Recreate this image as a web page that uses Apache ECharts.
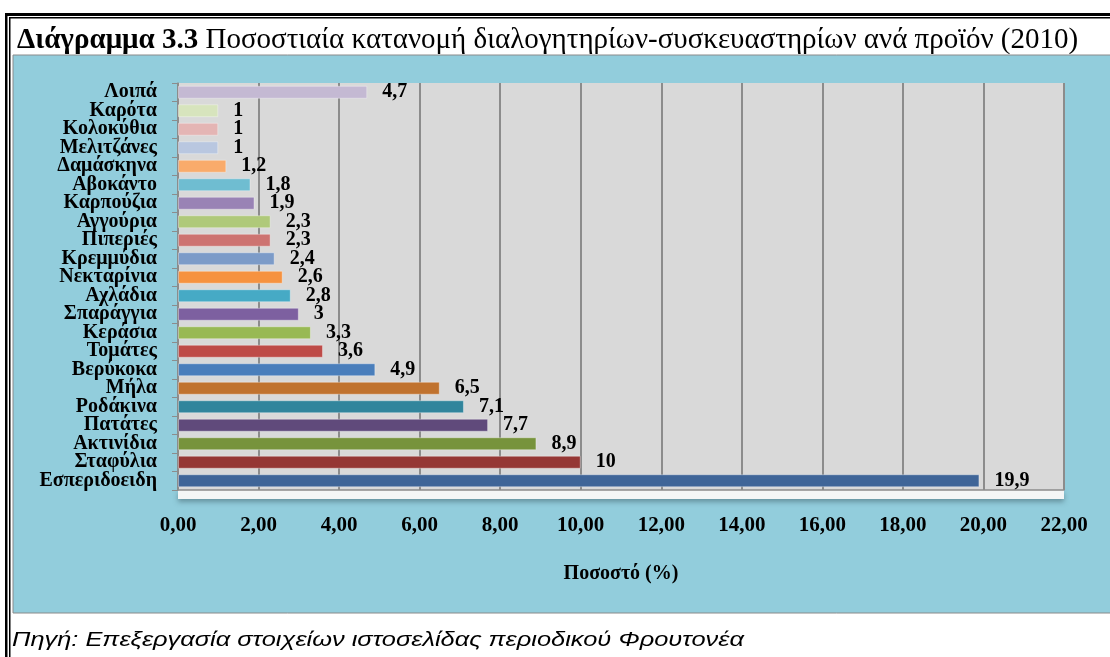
<!DOCTYPE html>
<html>
<head>
<meta charset="utf-8">
<script src="https://cdn.jsdelivr.net/npm/echarts@6/dist/echarts.min.js"></script>
<style>
  html, body { margin: 0; padding: 0; background: #fff; }
  #chart { width: 1110px; height: 657px; }
</style>
</head>
<body>
<div id="chart"></div>
<script>
// κατηγορίες από κάτω προς τα πάνω
const products = ['Εσπεριδοειδη', 'Σταφύλια', 'Ακτινίδια', 'Πατάτες', 'Ροδάκινα', 'Μήλα', 'Βερύκοκα',
  'Τομάτες', 'Κεράσια', 'Σπαράγγια', 'Αχλάδια', 'Νεκταρίνια', 'Κρεμμύδια', 'Πιπεριές', 'Αγγούρια',
  'Καρπούζια', 'Αβοκάντο', 'Δαμάσκηνα', 'Μελιτζάνες', 'Κολοκύθια', 'Καρότα', 'Λοιπά'];
const shares = [19.9, 10, 8.9, 7.7, 7.1, 6.5, 4.9, 3.6, 3.3, 3, 2.8, 2.6, 2.4, 2.3, 2.3, 1.9, 1.8, 1.2, 1, 1, 1, 4.7];
const barColors = ['#3F6598', '#953735', '#77933C', '#604A7B', '#31859C', '#C0722E', '#4A7EBB',
  '#BE4B48', '#98B954', '#7D60A0', '#46AAC5', '#F69240', '#7C9BC8', '#CD7371', '#AFC97A',
  '#9983B5', '#6FBDD1', '#F9AB6B', '#B9C7E0', '#E4B5B4', '#D7E4BD', '#C4B9D3'];
const xTicks = [0, 22, 2]; // min, max, βήμα

const serif = '"Liberation Serif", "Times New Roman", serif';
const chart = echarts.init(document.getElementById('chart'));

chart.setOption({
  backgroundColor: '#fff',
  animation: false,
  graphic: [
    // πλαίσιο (διπλή γραμμή)
    { type: 'rect', shape: { x: 5, y: 13, width: 1110, height: 3 }, style: { fill: '#000' } },
    { type: 'rect', shape: { x: 9, y: 17, width: 1110, height: 1.5 }, style: { fill: '#000' } },
    { type: 'rect', shape: { x: 5, y: 13, width: 2.5, height: 650 }, style: { fill: '#000' } },
    { type: 'rect', shape: { x: 9, y: 17, width: 1.5, height: 650 }, style: { fill: '#000' } },
    // μπλε φόντο γραφήματος
    { type: 'rect', z: -10, shape: { x: 13, y: 55, width: 1100, height: 558 },
      style: { fill: '#92CDDC', stroke: '#8a8a8a', lineWidth: 1 } },
    // λευκό "δάπεδο" κάτω από την περιοχή σχεδίασης
    { type: 'rect', z: -5, shape: { x: 178, y: 490, width: 886, height: 9 },
      style: { fill: '#F4F6F6', shadowBlur: 5, shadowColor: 'rgba(60,90,100,0.5)', shadowOffsetY: 3 } },
    { type: 'text', x: 12, y: 640, scaleX: 1.27,
      style: { text: 'Πηγή: Επεξεργασία στοιχείων ιστοσελίδας περιοδικού Φρουτονέα',
        font: 'italic 20px "Liberation Sans", Arial, sans-serif', fill: '#000', verticalAlign: 'middle' } }
  ],
  title: {
    left: 12, top: 21,
    text: '{b|Διάγραμμα 3.3} Ποσοστιαία κατανομή διαλογητηρίων-συσκευαστηρίων ανά προϊόν (2010)',
    textStyle: {
      fontFamily: serif, fontSize: 29, fontWeight: 'normal', color: '#000',
      rich: { b: { fontFamily: serif, fontSize: 29, fontWeight: 'bold', color: '#000' } }
    }
  },
  grid: {
    left: 178, right: 46, top: 83, bottom: 167,
    show: true, backgroundColor: '#D9D9D9', borderWidth: 0
  },
  xAxis: {
    type: 'value',
    min: xTicks[0], max: xTicks[1], interval: xTicks[2],
    name: 'Ποσοστό (%)',
    nameLocation: 'middle', nameGap: 74,
    nameTextStyle: { fontFamily: serif, fontSize: 20, fontWeight: 'bold', color: '#000' },
    axisLine: { show: true, lineStyle: { color: '#8C8C8C', width: 1.5 } },
    axisTick: { show: false },
    axisLabel: {
      margin: 25, fontFamily: serif, fontSize: 21, fontWeight: 'bold', color: '#000',
      formatter: v => v.toFixed(2).replace('.', ',')
    },
    splitLine: { show: true, lineStyle: { color: '#8C8C8C', width: 2 } }
  },
  yAxis: {
    type: 'category',
    data: products,
    axisLine: { show: true, lineStyle: { color: '#8C8C8C', width: 1.5 } },
    axisTick: { show: true, length: 6, lineStyle: { color: '#8C8C8C' } },
    axisLabel: {
      interval: 0, hideOverlap: false, margin: 21,
      fontFamily: serif, fontSize: 20, fontWeight: 'bold', color: '#000'
    },
    splitLine: { show: false }
  },
  series: [{
    type: 'bar',
    data: shares.map((v, i) => ({ value: v, itemStyle: { color: barColors[i] } })),
    barWidth: '70%',
    itemStyle: { borderColor: 'rgba(255,255,255,0.35)', borderWidth: 1 },
    label: {
      show: true, position: 'right', distance: 15,
      fontFamily: serif, fontSize: 20, fontWeight: 'bold', color: '#000',
      formatter: p => String(p.value).replace('.', ',')
    }
  }]
});
</script>
</body>
</html>
